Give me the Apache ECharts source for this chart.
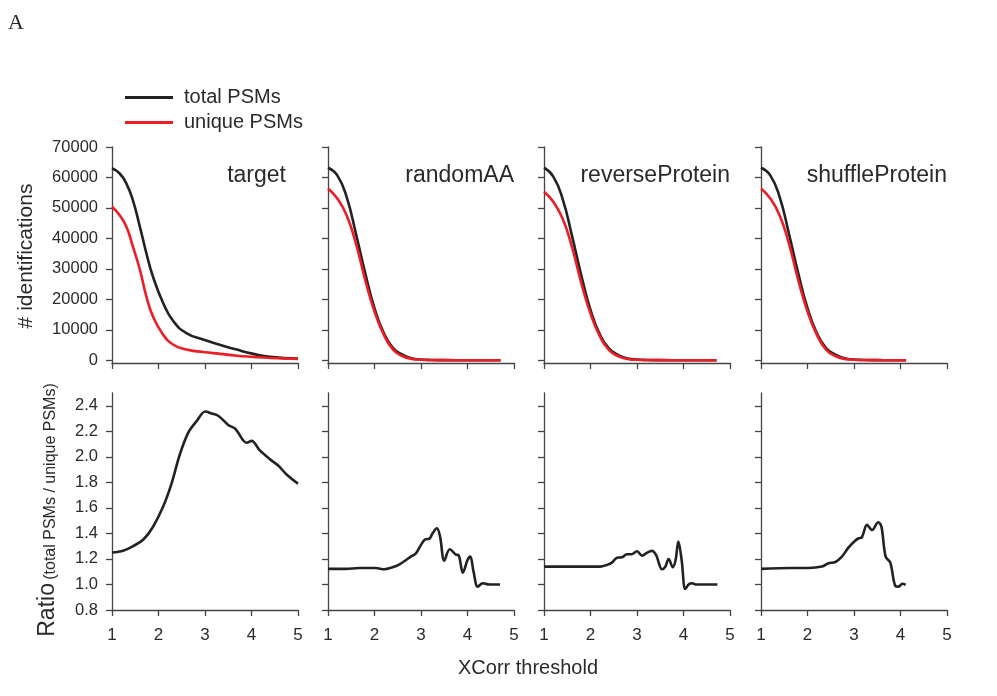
<!DOCTYPE html>
<html>
<head>
<meta charset="utf-8">
<script src="https://cdn.jsdelivr.net/npm/echarts@6/dist/echarts.min.js"></script>
<style>html,body{margin:0;padding:0;background:#fff}#c{width:997px;height:696px}</style>
</head>
<body>
<div id="c"></div>
<script>
// ---------- data ----------
const panelNames = ['target', 'randomAA', 'reverseProtein', 'shuffleProtein'];
const xTicks = [1, 2, 3, 4, 5];
const countTicks = [0, 10000, 20000, 30000, 40000, 50000, 60000, 70000];
const ratioTicks = [0.8, 1.0, 1.2, 1.4, 1.6, 1.8, 2.0, 2.2, 2.4];

const targetTotal = [[1,63000],[1.165,61300],[1.31,58000],[1.45,52500],[1.6,43800],[1.74,35100],[1.88,27500],[2.1,18800],[2.32,12800],[2.6,8900],[2.96,6800],[3.32,5100],[3.68,3500],[4.04,2100],[4.4,1100],[5,550]];
const targetUnique = [[1,50400],[1.165,47600],[1.31,43800],[1.45,37300],[1.6,29700],[1.74,20900],[1.88,14400],[2.1,8400],[2.32,5100],[2.6,3500],[2.96,2700],[3.32,2100],[3.68,1500],[4.04,1100],[4.4,760],[5,440]];

const randomTotal = [[1,63200],[1.2,60700],[1.4,53600],[1.6,41600],[1.8,28600],[2.0,17100],[2.2,8900],[2.4,4000],[2.6,1850],[2.8,650],[3.0,250],[3.2,100],[3.5,30],[4.0,10],[4.71,0]];
const randomUnique = [[1,56400],[1.2,53100],[1.4,47600],[1.6,38400],[1.8,26400],[2.0,16000],[2.2,8400],[2.4,3500],[2.6,1400],[2.8,450],[3.0,180],[3.2,80],[3.5,30],[4.0,10],[4.71,0]];

const reverseTotal = [[1,63200],[1.2,60300],[1.4,53000],[1.6,41000],[1.8,28000],[2.0,16500],[2.2,8500],[2.4,3800],[2.6,1700],[2.8,600],[3.0,230],[3.2,100],[3.5,30],[4.0,10],[4.71,0]];
const reverseUnique = [[1,55300],[1.2,52000],[1.4,46500],[1.6,37300],[1.8,25500],[2.0,15300],[2.2,7900],[2.4,3300],[2.6,1300],[2.8,420],[3.0,170],[3.2,80],[3.5,30],[4.0,10],[4.71,0]];

const shuffleTotal = [[1,63200],[1.2,60700],[1.4,53600],[1.6,41600],[1.8,28600],[2.0,17100],[2.2,8900],[2.4,4000],[2.6,1850],[2.8,650],[3.0,250],[3.2,100],[3.5,30],[3.8,10],[4.12,0]];
const shuffleUnique = [[1,56400],[1.2,53100],[1.4,47600],[1.6,38400],[1.8,26400],[2.0,16000],[2.2,8400],[2.4,3500],[2.6,1400],[2.8,450],[3.0,180],[3.2,80],[3.5,30],[3.8,10],[4.12,0]];

const targetRatio = [[1,1.25],[1.24,1.265],[1.45,1.30],[1.67,1.35],[1.88,1.45],[2.1,1.61],[2.28,1.79],[2.46,2.02],[2.64,2.19],[2.82,2.28],[3.01,2.355],[3.14,2.34],[3.29,2.32],[3.5,2.25],[3.65,2.22],[3.9,2.11],[4.0,2.125],[4.18,2.05],[4.4,1.98],[4.58,1.93],[4.76,1.86],[5,1.79]];
const randomRatio = [[1,1.122],[1.38,1.122],[1.67,1.129],[2.03,1.129],[2.21,1.119],[2.39,1.135],[2.53,1.156],[2.68,1.192],[2.78,1.218],[2.89,1.244],[3.0,1.31],[3.09,1.354],[3.18,1.359],[3.25,1.401],[3.34,1.44],[3.41,1.375],[3.5,1.187],[3.62,1.276],[3.75,1.234],[3.81,1.229],[3.9,1.093],[4.0,1.192],[4.06,1.218],[4.13,1.101],[4.22,0.983],[4.33,1.009],[4.47,1.0],[4.7,1.0]];
const reverseRatio = [[1,1.14],[1.67,1.14],[2.21,1.14],[2.35,1.153],[2.46,1.171],[2.57,1.21],[2.68,1.213],[2.78,1.237],[2.88,1.237],[3.0,1.26],[3.11,1.226],[3.22,1.25],[3.32,1.263],[3.41,1.231],[3.54,1.119],[3.61,1.14],[3.68,1.2],[3.77,1.135],[3.83,1.192],[3.89,1.336],[3.96,1.192],[4.04,0.965],[4.12,1.004],[4.19,1.009],[4.26,1.0],[4.73,1.0]];
const shuffleRatio = [[1,1.122],[1.66,1.129],[2.02,1.129],[2.31,1.14],[2.45,1.166],[2.6,1.176],[2.74,1.218],[2.88,1.289],[3.03,1.344],[3.1,1.362],[3.17,1.37],[3.28,1.467],[3.39,1.427],[3.52,1.488],[3.59,1.453],[3.68,1.218],[3.78,1.171],[3.89,0.988],[3.96,0.983],[4.04,1.006],[4.11,0.996]];

const totals = [targetTotal, randomTotal, reverseTotal, shuffleTotal];
const uniques = [targetUnique, randomUnique, reverseUnique, shuffleUnique];
const ratios = [targetRatio, randomRatio, reverseRatio, shuffleRatio];

// ---------- layout / style ----------
const FONT = 'Liberation Sans, Arial, Helvetica, sans-serif';
const AX = '#444';
const TXT = '#2a2a2a';
const BLACK = '#222222';
const RED = '#ee1c25';
const lefts = [112, 328, 544, 761];
const W = 186;
const titleInset = [12, 0, 0, 0];

const grids = [], xAxes = [], yAxes = [], series = [], graphics = [];
for (let i = 0; i < 8; i++) {
  const top = i < 4;
  const p = i % 4;
  grids.push(top ? {left: lefts[p], width: W, top: 147, height: 216}
                 : {left: lefts[p], width: W, top: 393, height: 217});
  xAxes.push({
    type: 'value', gridIndex: i, min: 1, max: 5, interval: 1,
    axisLine: {show: true, onZero: false, lineStyle: {color: AX, width: 1.3}},
    axisTick: {show: true, length: 6, lineStyle: {color: AX, width: 1.3}, customValues: xTicks},
    axisLabel: {show: !top, margin: 17, fontSize: 17, color: TXT, fontFamily: FONT, customValues: xTicks},
    splitLine: {show: false}
  });
  yAxes.push(top ? {
    type: 'value', gridIndex: i, min: -900, max: 70000,
    axisLine: {show: true, onZero: false, lineStyle: {color: AX, width: 1.3}},
    axisTick: {show: true, length: 6, lineStyle: {color: AX, width: 1.3}, customValues: countTicks},
    axisLabel: {show: p === 0, margin: 14, fontSize: 16.5, color: TXT, fontFamily: FONT,
      customValues: countTicks, formatter: v => String(Math.round(v))},
    splitLine: {show: false}
  } : {
    type: 'value', gridIndex: i, min: 0.8, max: 2.5,
    axisLine: {show: true, onZero: false, lineStyle: {color: AX, width: 1.3}},
    axisTick: {show: true, length: 6, lineStyle: {color: AX, width: 1.3}, customValues: ratioTicks},
    axisLabel: {show: p === 0, margin: 14, fontSize: 16.5, color: TXT, fontFamily: FONT,
      customValues: ratioTicks, formatter: v => v.toFixed(1)},
    splitLine: {show: false}
  });
  if (top) {
    series.push({name: 'total PSMs', type: 'line', xAxisIndex: i, yAxisIndex: i, data: totals[p],
      smooth: 0.5, symbol: 'none', color: BLACK, lineStyle: {color: BLACK, width: 2.6}});
    series.push({name: 'unique PSMs', type: 'line', xAxisIndex: i, yAxisIndex: i, data: uniques[p],
      smooth: 0.5, symbol: 'none', color: RED, lineStyle: {color: RED, width: 2.6}});
  } else {
    series.push({name: 'ratio', type: 'line', xAxisIndex: i, yAxisIndex: i, data: ratios[p],
      smooth: 0.35, symbol: 'none', color: BLACK, lineStyle: {color: BLACK, width: 2.6}});
  }
}

panelNames.forEach((n, p) => {
  graphics.push({type: 'text', x: lefts[p] + W - titleInset[p], y: 176,
    style: {text: n, font: '23px ' + FONT, fill: TXT, textAlign: 'right', textVerticalAlign: 'middle'}});
});
graphics.push({type: 'text', x: 16, y: 23,
  style: {text: 'A', font: '22px "Liberation Serif", "DejaVu Serif", serif', fill: TXT, textAlign: 'center', textVerticalAlign: 'middle'}});
graphics.push({type: 'text', x: 26, y: 256, rotation: Math.PI / 2,
  style: {text: '# identifications', font: '21px ' + FONT, fill: TXT, textAlign: 'center', textVerticalAlign: 'middle'}});
graphics.push({type: 'text', x: 46, y: 510, rotation: Math.PI / 2,
  style: {text: '{a|Ratio} {b|(total PSMs / unique PSMs)}', textAlign: 'center', textVerticalAlign: 'middle',
    rich: {a: {fontSize: 23, fontFamily: FONT, fill: TXT, verticalAlign: 'bottom', lineHeight: 26},
           b: {fontSize: 16, fontFamily: FONT, fill: TXT, verticalAlign: 'bottom', lineHeight: 22}}}});
graphics.push({type: 'text', x: 528, y: 668,
  style: {text: 'XCorr threshold', font: '20px ' + FONT, fill: TXT, textAlign: 'center', textVerticalAlign: 'middle'}});

const chart = echarts.init(document.getElementById('c'), null, {renderer: 'canvas'});
chart.setOption({
  animation: false,
  backgroundColor: '#fff',
  legend: {
    data: ['total PSMs', 'unique PSMs'], orient: 'vertical', left: 120, top: 82,
    icon: 'rect', itemWidth: 48, itemHeight: 3, itemGap: 4,
    textStyle: {fontSize: 20, fontFamily: FONT, color: TXT, lineHeight: 21, padding: [0, 0, 0, 6]},
    selectedMode: false
  },
  grid: grids, xAxis: xAxes, yAxis: yAxes, series: series, graphic: graphics
});
</script>
</body>
</html>
